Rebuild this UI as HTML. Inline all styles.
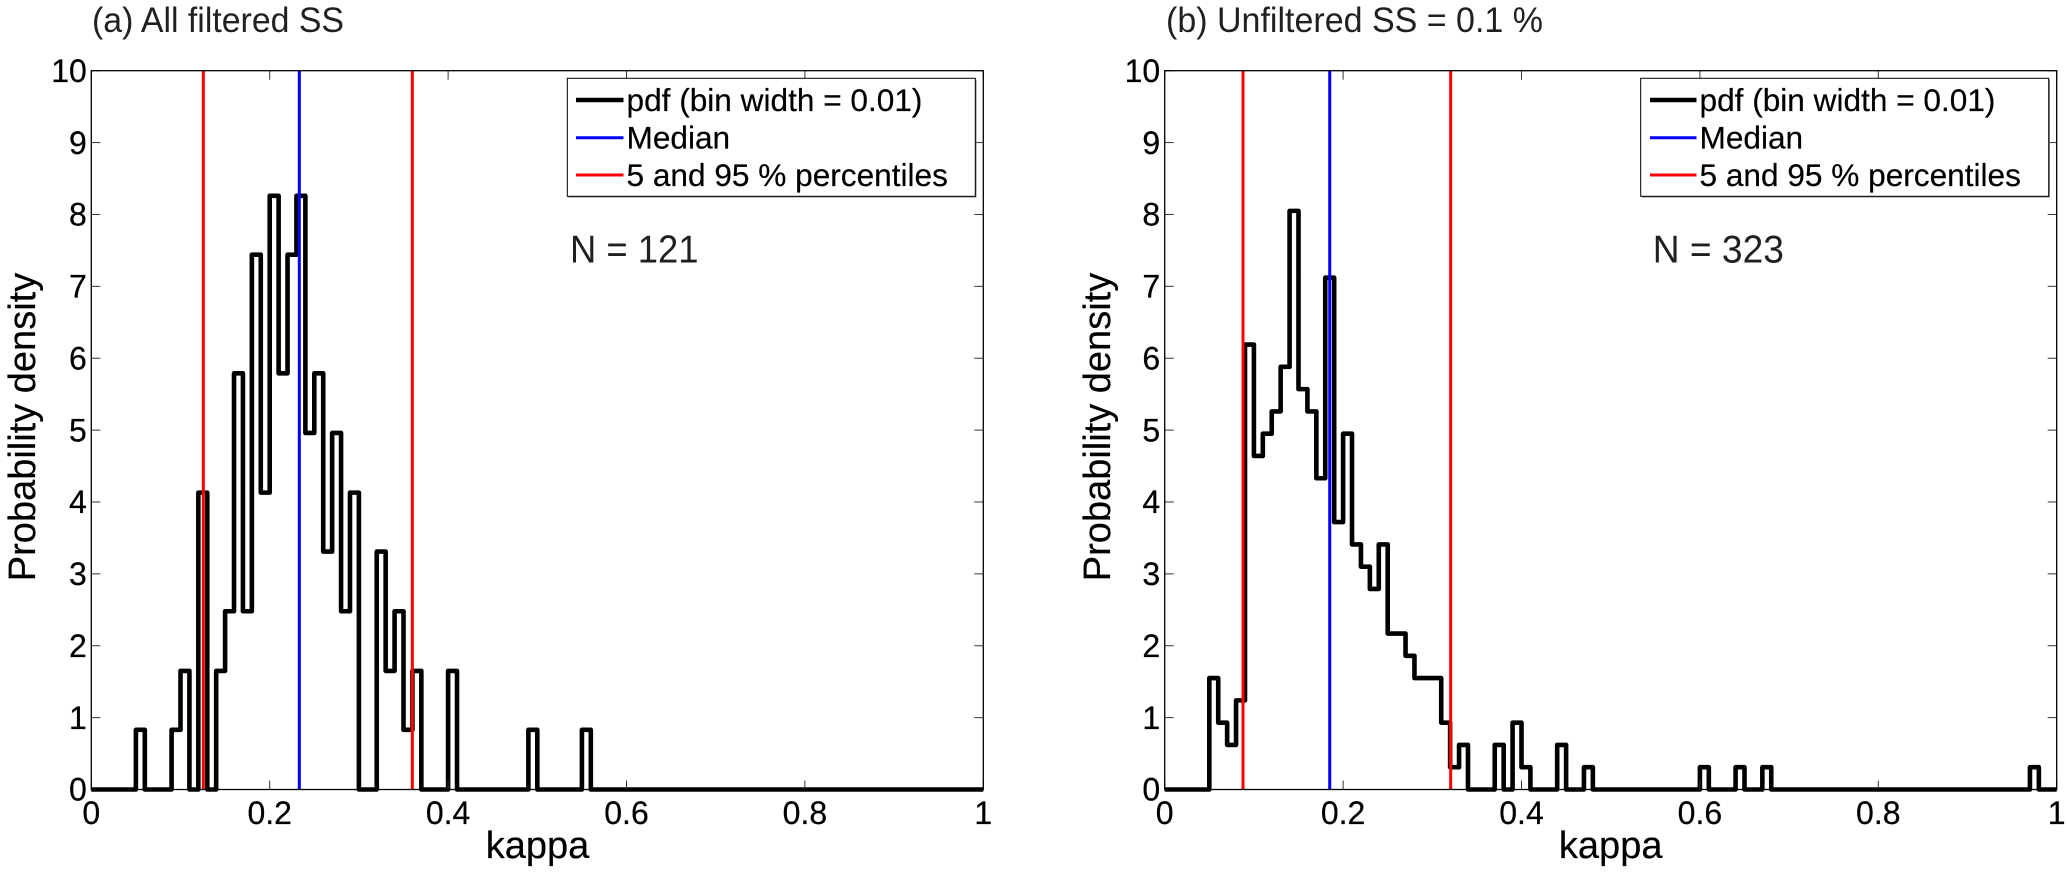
<!DOCTYPE html>
<html lang="en">
<head>
<meta charset="utf-8">
<title>Kappa probability density histograms</title>
<style>
html,body{margin:0;padding:0;background:#fff;}
svg{display:block;}
text{font-family:"Liberation Sans",sans-serif;fill:#000;}
.tick-label{font-size:32px;stroke:#000;stroke-width:0.25px;}
.axis-title{font-size:38px;stroke:#000;stroke-width:0.2px;}
.legend-text{font-size:31.6px;stroke:#000;stroke-width:0.2px;}
.count-text{font-size:38.5px;fill:#231f20;}
.panel-title{font-size:35px;fill:#231f20;}
</style>
</head>
<body>
<svg id="figure" xmlns="http://www.w3.org/2000/svg" width="2067" height="872" viewBox="0 0 2067 872">
  <rect x="0" y="0" width="2067" height="872" fill="#fff"/>

  <g id="panel-a">
    <text class="panel-title" x="92" y="32" textLength="252" lengthAdjust="spacingAndGlyphs">(a) All filtered SS</text>
    <g id="plot-a"></g>
    <text class="axis-title" x="537.5" y="858" text-anchor="middle">kappa</text>
    <text class="axis-title" transform="translate(35,427) rotate(-90)" text-anchor="middle">Probability density</text>
    <text class="count-text" x="570" y="262.5" textLength="128.5" lengthAdjust="spacingAndGlyphs">N = 121</text>
    <g>
      <rect x="568.5" y="79.5" width="408" height="118" fill="#808080"/>
      <rect x="567.3" y="78.3" width="408" height="118" fill="#fff" stroke="#000" stroke-width="1"/>
      <line x1="576" x2="623.5" y1="100" y2="100" stroke="#000" stroke-width="4.5"/>
      <text class="legend-text" x="626.5" y="111">pdf (bin width = 0.01)</text>
      <line x1="576" x2="623.5" y1="137.7" y2="137.7" stroke="#0000ff" stroke-width="3"/>
      <text class="legend-text" x="626.5" y="148.7">Median</text>
      <line x1="576" x2="623.5" y1="175" y2="175" stroke="#ff0000" stroke-width="3"/>
      <text class="legend-text" x="626.5" y="186">5 and 95 % percentiles</text>
    </g>
  </g>

  <g id="panel-b">
    <text class="panel-title" x="1166" y="32" textLength="377" lengthAdjust="spacingAndGlyphs">(b) Unfiltered SS = 0.1 %</text>
    <g id="plot-b"></g>
    <text class="axis-title" x="1610.7" y="858" text-anchor="middle">kappa</text>
    <text class="axis-title" transform="translate(1110,427) rotate(-90)" text-anchor="middle">Probability density</text>
    <text class="count-text" x="1652.7" y="262.5" textLength="131.3" lengthAdjust="spacingAndGlyphs">N = 323</text>
    <g>
      <rect x="1641.9" y="79.5" width="408" height="118" fill="#808080"/>
      <rect x="1640.7" y="78.3" width="408" height="118" fill="#fff" stroke="#000" stroke-width="1"/>
      <line x1="1650" x2="1696.5" y1="100" y2="100" stroke="#000" stroke-width="4.5"/>
      <text class="legend-text" x="1699.5" y="111">pdf (bin width = 0.01)</text>
      <line x1="1650" x2="1696.5" y1="137.7" y2="137.7" stroke="#0000ff" stroke-width="3"/>
      <text class="legend-text" x="1699.5" y="148.7">Median</text>
      <line x1="1650" x2="1696.5" y1="175" y2="175" stroke="#ff0000" stroke-width="3"/>
      <text class="legend-text" x="1699.5" y="186">5 and 95 % percentiles</text>
    </g>
  </g>
</svg>

<script>
var xTickValues = [0, 0.2, 0.4, 0.6, 0.8, 1];
var xTickLabels = ['0', '0.2', '0.4', '0.6', '0.8', '1'];
var yTickValues = [0, 1, 2, 3, 4, 5, 6, 7, 8, 9, 10];
var yTickLabels = ['0', '1', '2', '3', '4', '5', '6', '7', '8', '9', '10'];
var binWidth = 0.01;

var binStartsA = [0.05, 0.09, 0.10, 0.12, 0.14, 0.15, 0.16, 0.17, 0.18, 0.19, 0.20, 0.21, 0.22, 0.23, 0.24, 0.25, 0.26, 0.27, 0.28, 0.29, 0.32, 0.33, 0.34, 0.35, 0.36, 0.40, 0.49, 0.55];
var densityA = [0.83, 0.83, 1.65, 4.13, 1.65, 2.48, 5.79, 2.48, 7.44, 4.13, 8.26, 5.79, 7.44, 8.26, 4.96, 5.79, 3.31, 4.96, 2.48, 4.13, 3.31, 1.65, 2.48, 0.83, 1.65, 1.65, 0.83, 0.83];
var medianA = 0.2332;
var percentilesA = [0.1256, 0.3599];

var binStartsB = [0.05, 0.06, 0.07, 0.08, 0.09, 0.10, 0.11, 0.12, 0.13, 0.14, 0.15, 0.16, 0.17, 0.18, 0.19, 0.20, 0.21, 0.22, 0.23, 0.24, 0.25, 0.26, 0.27, 0.28, 0.29, 0.30, 0.31, 0.32, 0.33, 0.37, 0.39, 0.40, 0.44, 0.47, 0.60, 0.64, 0.67, 0.97];
var densityB = [1.55, 0.93, 0.62, 1.24, 6.19, 4.64, 4.95, 5.26, 5.88, 8.05, 5.57, 5.26, 4.33, 7.12, 3.72, 4.95, 3.41, 3.10, 2.79, 3.41, 2.17, 2.17, 1.86, 1.55, 1.55, 1.55, 0.93, 0.31, 0.62, 0.62, 0.93, 0.31, 0.62, 0.31, 0.31, 0.31, 0.31, 0.31];
var medianB = 0.185;
var percentilesB = [0.0878, 0.3206];

var SVG_NS = 'http://www.w3.org/2000/svg';
var plotTop = 70.7;
var plotBottom = 789.5;
var plotWidth = 892;
var tickLength = 9;

function yScale(v) {
  return plotBottom - (v / 10) * (plotBottom - plotTop);
}

function makeLine(parent, x1, y1, x2, y2, color, width) {
  var el = document.createElementNS(SVG_NS, 'line');
  el.setAttribute('x1', x1);
  el.setAttribute('y1', y1);
  el.setAttribute('x2', x2);
  el.setAttribute('y2', y2);
  el.setAttribute('stroke', color);
  el.setAttribute('stroke-width', width);
  parent.appendChild(el);
  return el;
}

function makeLabel(parent, x, y, anchor, content) {
  var el = document.createElementNS(SVG_NS, 'text');
  el.setAttribute('x', x);
  el.setAttribute('y', y);
  el.setAttribute('text-anchor', anchor);
  el.setAttribute('class', 'tick-label');
  el.textContent = content;
  parent.appendChild(el);
  return el;
}

function drawPanel(parent, plotLeft, binStarts, density, median, percentiles) {
  var plotRight = plotLeft + plotWidth;
  function xScale(v) {
    return plotLeft + v * plotWidth;
  }

  // Stair outline of the histogram
  var d = 'M' + xScale(0) + ' ' + yScale(0);
  var cursor = 0;
  for (var i = 0; i < binStarts.length; i++) {
    var start = binStarts[i];
    var end = start + binWidth;
    if (start - cursor > 1e-6) {
      d += ' L' + xScale(start) + ' ' + yScale(0);
    }
    d += ' L' + xScale(start) + ' ' + yScale(density[i]);
    d += ' L' + xScale(end) + ' ' + yScale(density[i]);
    var next = binStarts[i + 1];
    if (next === undefined || next - end > 1e-6) {
      d += ' L' + xScale(end) + ' ' + yScale(0);
    }
    cursor = end;
  }
  d += ' L' + xScale(1) + ' ' + yScale(0);

  var stairs = document.createElementNS(SVG_NS, 'path');
  stairs.setAttribute('d', d);
  stairs.setAttribute('fill', 'none');
  stairs.setAttribute('stroke', '#000');
  stairs.setAttribute('stroke-width', '4.6');
  stairs.setAttribute('stroke-linejoin', 'round');
  
  
  parent.appendChild(stairs);

  // Percentile and median markers
  percentiles.forEach(function (p) {
    var line = makeLine(parent, xScale(p), plotTop, xScale(p), plotBottom, '#ff0000', 3);
    
    
  });
  var medianLine = makeLine(parent, xScale(median), plotTop, xScale(median), plotBottom, '#0000ff', 3);
  
  

  // X ticks and labels
  xTickValues.forEach(function (v, i) {
    var px = xScale(v);
    var lower = makeLine(parent, px, plotBottom, px, plotBottom - tickLength, '#333', 1);
    
    
    var upper = makeLine(parent, px, plotTop, px, plotTop + tickLength, '#333', 1);
    
    
    var label = makeLabel(parent, px, 824, 'middle', xTickLabels[i]);
    
    
  });

  // Y ticks and labels
  yTickValues.forEach(function (v, i) {
    var py = yScale(v);
    var left = makeLine(parent, plotLeft, py, plotLeft + tickLength, py, '#333', 1);
    
    
    var right = makeLine(parent, plotRight, py, plotRight - tickLength, py, '#333', 1);
    
    
    var label = makeLabel(parent, plotLeft - 4.5, py + 11.2, 'end', yTickLabels[i]);
    
    
  });

  // Axes box
  var frame = document.createElementNS(SVG_NS, 'rect');
  frame.setAttribute('x', plotLeft);
  frame.setAttribute('y', plotTop);
  frame.setAttribute('width', plotWidth);
  frame.setAttribute('height', plotBottom - plotTop);
  frame.setAttribute('fill', 'none');
  frame.setAttribute('stroke', '#000');
  frame.setAttribute('stroke-width', '1.3');
  
  
  parent.appendChild(frame);
}

drawPanel(document.getElementById('plot-a'), 91.3, binStartsA, densityA, medianA, percentilesA);
drawPanel(document.getElementById('plot-b'), 1164.7, binStartsB, densityB, medianB, percentilesB);
</script>
</body>
</html>
